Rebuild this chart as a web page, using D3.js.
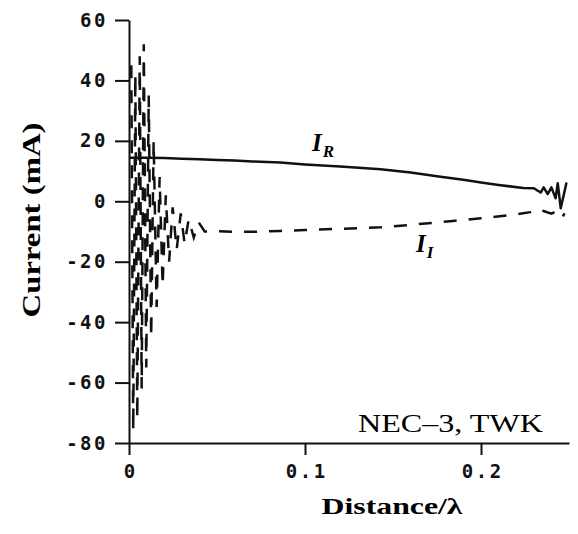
<!DOCTYPE html>
<html>
<head>
<meta charset="utf-8">
<script src="https://cdn.jsdelivr.net/npm/d3@7"></script>
<style>
  body { margin: 0; background: #fff; }
</style>
</head>
<body>
<script>
// real part, solid line
const irX = [0, 0.01, 0.02, 0.03, 0.04, 0.05, 0.06, 0.07, 0.086, 0.1, 0.12, 0.143, 0.16, 0.177, 0.19, 0.2, 0.21, 0.224, 0.230,
    0.2339, 0.2356, 0.2379, 0.2400, 0.2424, 0.2436, 0.2453, 0.2486]
const irY = [14.4, 14.4, 14.3, 14.1, 13.9, 13.7, 13.5, 13.2, 12.8, 12.2, 11.5, 10.6, 9.5, 8.1, 7.1, 6.2, 5.4, 4.4, 4.3,
    2.9, 4.6, 2.4, 4.6, 1, 6, -2.3, 6.2]

// imaginary part, dashed line (fast oscillation near the source)
const iiX = [0.0013, 0.0024, 0.0036, 0.0047, 0.0061, 0.0072, 0.0084, 0.0098, 0.0112, 0.0126, 0.0140, 0.0157,
    0.0174, 0.0191, 0.0209, 0.0228, 0.0248, 0.0271, 0.0294, 0.0316, 0.0339, 0.0368, 0.0396, 0.043,
    0.05, 0.06, 0.07, 0.086, 0.1, 0.12, 0.143, 0.16, 0.184, 0.2, 0.218, 0.228, 0.232, 0.2355, 0.24, 0.2425, 0.246, 0.2475]
const iiY = [45, -76, 42, -72, 48, -62, 52, -55, 35, -45, 20, -35,
    8, -28, 2, -20, -2, -16, -4, -14, -6, -12, -7, -10,
    -9.9, -10.1, -10.1, -9.8, -9.5, -9.1, -8.6, -7.8, -6.5, -5.6, -4.5, -3.6, -2.6, -3.2, -4.1, -3.4, -5.5, -4]

const yTicks = [60, 40, 20, 0, -20, -40, -60, -80]
const xTicks = [0, 0.1, 0.2]
const xTickLabels = ["0", "0.1", "0.2"]

function drawVis(){
    const width = 578
    const height = 534

    const x = d3.scaleLinear().domain([0, 0.25]).range([129, 569])
    const y = d3.scaleLinear().domain([-80, 60]).range([443, 20])

    const svg = d3.select("body").append("svg")
        .attr("width", width)
        .attr("height", height)

    const yAxis = svg.append("g")
        .attr("transform", `translate(${x(0)},0)`)
        .call(d3.axisLeft(y).tickValues(yTicks).tickSize(14).tickSizeOuter(0).tickPadding(7)
            .tickFormat(d => String(d)))

    const xAxis = svg.append("g")
        .attr("transform", `translate(0,${y(-80)})`)
        .call(d3.axisBottom(x).tickValues(xTicks).tickSize(12).tickSizeOuter(0).tickPadding(10)
            .tickFormat((d, i) => xTickLabels[i]))

    svg.selectAll(".domain, .tick line")
        .attr("stroke", "#111")
        .attr("stroke-width", 2)

    svg.selectAll(".tick text")
        .attr("fill", "#111")
        .style("font-family", "'DejaVu Sans Mono', monospace")
        .style("font-weight", "bold")
        .style("font-size", "19px")
        .style("letter-spacing", "2.5px")

    xAxis.selectAll(".tick text").attr("dx", 1.2)

    const line = d3.line()
        .x(d => x(d[0]))
        .y(d => y(d[1]))

    svg.append("path")
        .datum(iiX.map((v, i) => [v, iiY[i]]))
        .attr("fill", "none")
        .attr("stroke", "#111")
        .attr("stroke-width", 2.5)
        .attr("stroke-dasharray", "13,12")
        .attr("d", line)

    svg.append("path")
        .datum(irX.map((v, i) => [v, irY[i]]))
        .attr("fill", "none")
        .attr("stroke", "#111")
        .attr("stroke-width", 2.5)
        .attr("stroke-linejoin", "round")
        .attr("d", line)

    // axis titles
    svg.append("text")
        .attr("transform", "translate(40,220) rotate(-90)")
        .attr("text-anchor", "middle")
        .attr("textLength", 195)
        .attr("lengthAdjust", "spacingAndGlyphs")
        .style("font-family", "'Liberation Serif', serif")
        .style("font-weight", "bold")
        .style("font-size", "26px")
        .text("Current (mA)")

    svg.append("text")
        .attr("x", 392)
        .attr("y", 514)
        .attr("text-anchor", "middle")
        .attr("textLength", 141)
        .attr("lengthAdjust", "spacingAndGlyphs")
        .style("font-family", "'Liberation Serif', serif")
        .style("font-weight", "bold")
        .style("font-size", "24px")
        .text("Distance/λ")

    svg.append("text")
        .attr("x", 358)
        .attr("y", 432)
        .attr("textLength", 185)
        .attr("lengthAdjust", "spacingAndGlyphs")
        .style("font-family", "'Liberation Serif', serif")
        .style("font-size", "25px")
        .text("NEC–3, TWK")

    // curve labels
    const labels = [
        {x: 312, y: 151, sub: "R"},
        {x: 416, y: 252, sub: "I"},
    ]
    labels.forEach(l => {
        const t = svg.append("text")
            .attr("x", l.x)
            .attr("y", l.y)
            .style("font-family", "'Liberation Serif', serif")
            .style("font-weight", "bold")
            .style("font-style", "italic")
            .style("font-size", "25px")
        t.append("tspan").text("I")
        t.append("tspan")
            .attr("dx", 1)
            .attr("dy", 6)
            .style("font-size", "17px")
            .text(l.sub)
    })

    return svg.node()
}

drawVis()
</script>
</body>
</html>
